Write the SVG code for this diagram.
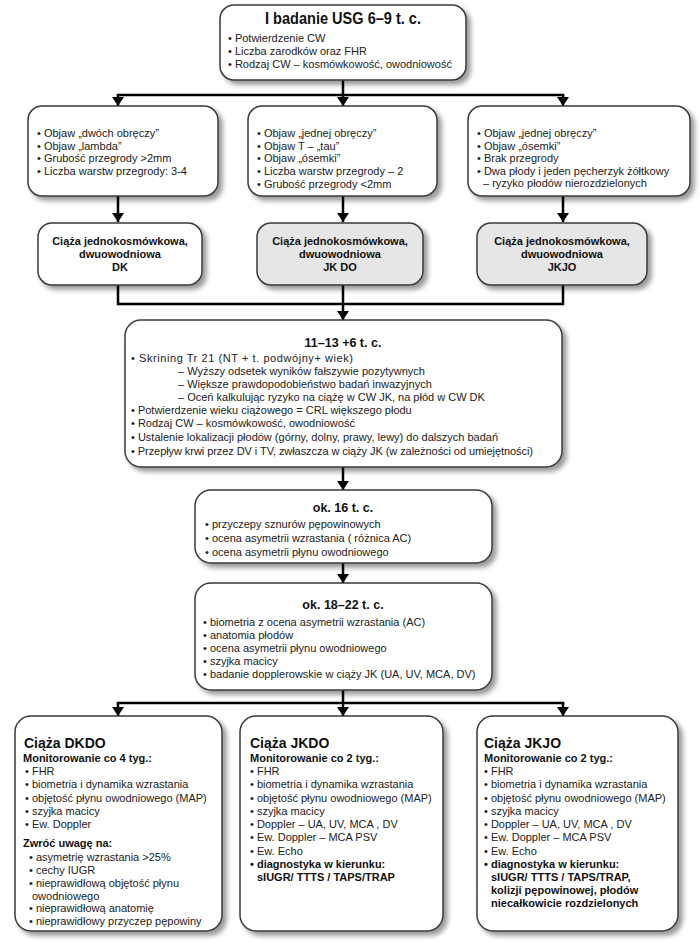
<svg xmlns="http://www.w3.org/2000/svg" width="700" height="942" viewBox="0 0 700 942">
<defs>
<filter id="sh" x="-10%" y="-10%" width="130%" height="130%">
<feDropShadow dx="4" dy="4" stdDeviation="2.8" flood-color="#000" flood-opacity="0.4"/>
</filter>
<marker id="ar" markerUnits="userSpaceOnUse" markerWidth="9" markerHeight="12" refX="9" refY="6" orient="auto">
<path d="M0,0 L9,6 L0,12 z" fill="#000"/>
</marker>
<style>
.box{fill:#fff;stroke:#3a3a3a;stroke-width:1.5;filter:url(#sh)}
.grey{fill:#e6e6e6}
.t{font-family:"Liberation Sans",Arial,sans-serif;font-size:11px;fill:#222}
.b{font-family:"Liberation Sans",Arial,sans-serif;font-weight:bold;fill:#111}
.m{font-size:11px}
.h{font-size:14px}
.c{text-anchor:middle}
.con{fill:none;stroke:#000;stroke-width:2.5}
</style>
</defs>
<rect width="700" height="942" fill="#fff"/>

<g id="connectors">
<path class="con" d="M343,80 V95 M116.75,95 H564.25 M116.75,304 H564.25 M118,285 V304 M563,285 V304 M343,285 V304 M343,690 V703 M116.75,703 H564.25"/>
<path class="con" d="M118,95 V106" marker-end="url(#ar)"/>
<path class="con" d="M343,95 V106" marker-end="url(#ar)"/>
<path class="con" d="M563,95 V106" marker-end="url(#ar)"/>
<path class="con" d="M118,196 V222" marker-end="url(#ar)"/>
<path class="con" d="M343,196 V222" marker-end="url(#ar)"/>
<path class="con" d="M563,196 V222" marker-end="url(#ar)"/>
<path class="con" d="M343,304 V320" marker-end="url(#ar)"/>
<path class="con" d="M343,467 V490" marker-end="url(#ar)"/>
<path class="con" d="M343,563 V583" marker-end="url(#ar)"/>
<path class="con" d="M118,703 V716" marker-end="url(#ar)"/>
<path class="con" d="M343,703 V716" marker-end="url(#ar)"/>
<path class="con" d="M563,703 V716" marker-end="url(#ar)"/>
</g>

<g id="n_usg1">
<rect class="box" x="220" y="5" width="246" height="75" rx="14"/>
<text class="b c" x="343" y="24" font-size="17" textLength="156" lengthAdjust="spacingAndGlyphs">I badanie USG  6–9 t. c.</text>
<text class="t" x="228" y="41.5">• Potwierdzenie CW</text>
<text class="t" x="228" y="54.5">• Liczba zarodków oraz FHR</text>
<text class="t" x="228" y="67.5">• Rodzaj CW – kosmówkowość, owodniowość</text>
</g>

<g id="n_dk_signs">
<rect class="box" x="28" y="106" width="190" height="90" rx="14"/>
<text class="t" x="37" y="136.5">• Objaw „dwóch obręczy”</text>
<text class="t" x="37" y="149.5">• Objaw „lambda”</text>
<text class="t" x="37" y="162">• Grubość przegrody &gt;2mm</text>
<text class="t" x="37" y="174.5">• Liczba warstw przegrody: 3-4</text>
</g>

<g id="n_jkdo_signs">
<rect class="box" x="248" y="106" width="189" height="90" rx="14"/>
<text class="t" x="257" y="136.5">• Objaw „jednej obręczy”</text>
<text class="t" x="257" y="149.5">• Objaw T – „tau”</text>
<text class="t" x="257" y="162">• Objaw „ósemki”</text>
<text class="t" x="257" y="174.5">• Liczba warstw przegrody – 2</text>
<text class="t" x="257" y="187.5">• Grubość przegrody &lt;2mm</text>
</g>

<g id="n_jkjo_signs">
<rect class="box" x="468" y="106" width="222" height="90" rx="14"/>
<text class="t" x="477" y="136.5">• Objaw „jednej obręczy”</text>
<text class="t" x="477" y="149.5">• Objaw „ósemki”</text>
<text class="t" x="477" y="162">• Brak przegrody</text>
<text class="t" x="477" y="174.5">• Dwa płody i jeden pęcherzyk żółtkowy</text>
<text class="t" x="483" y="187">– ryzyko płodów nierozdzielonych</text>
</g>

<g id="n_dk">
<rect class="box" x="38" y="223" width="164" height="62" rx="14"/>
<text class="b c" x="120" y="245" font-size="11">Ciąża jednokosmówkowa,</text>
<text class="b c" x="120" y="258" font-size="11">dwuowodniowa</text>
<text class="b c" x="120" y="271" font-size="11">DK</text>
</g>

<g id="n_jkdo">
<rect class="box grey" x="257" y="223" width="166" height="62" rx="14"/>
<text class="b c" x="340" y="245" font-size="11">Ciąża jednokosmówkowa,</text>
<text class="b c" x="340" y="258" font-size="11">dwuowodniowa</text>
<text class="b c" x="340" y="271" font-size="11">JK DO</text>
</g>

<g id="n_jkjo">
<rect class="box grey" x="477" y="223" width="170" height="62" rx="14"/>
<text class="b c" x="562" y="245" font-size="11">Ciąża jednokosmówkowa,</text>
<text class="b c" x="562" y="258" font-size="11">dwuowodniowa</text>
<text class="b c" x="562" y="271" font-size="11">JKJO</text>
</g>

<g id="n_11_13">
<rect class="box" x="125" y="320" width="437" height="147" rx="16"/>
<text class="b c" x="343" y="346.5" font-size="12.5">11–13 +6 t. c.</text>
<text class="t" x="131" y="361.5" textLength="222" lengthAdjust="spacing">• Skrining Tr 21 (NT + t. podwójny+ wiek)</text>
<text class="t" x="178" y="374.5">– Wyższy odsetek wyników fałszywie pozytywnych</text>
<text class="t" x="178" y="387.5">– Większe prawdopodobieństwo badań inwazyjnych</text>
<text class="t" x="178" y="400.5">– Oceń  kalkulując ryzyko na ciążę w CW JK, na płód w CW DK</text>
<text class="t" x="131" y="413.5">• Potwierdzenie wieku ciążowego = CRL większego płodu</text>
<text class="t" x="131" y="427">• Rodzaj CW – kosmówkowość, owodniowość</text>
<text class="t" x="131" y="440.5">• Ustalenie lokalizacji płodów (górny, dolny, prawy, lewy) do dalszych badań</text>
<text class="t" x="131" y="454.5" textLength="402" lengthAdjust="spacing">• Przepływ krwi przez DV i TV, zwłaszcza w ciąży JK (w zależności od umiejętności)</text>
</g>

<g id="n_16">
<rect class="box" x="195" y="490" width="297" height="73" rx="16"/>
<text class="b c" x="343" y="511.5" font-size="12.5">ok. 16 t. c.</text>
<text class="t" x="205" y="527.5">• przyczepy sznurów pępowinowych</text>
<text class="t" x="205" y="541.5">• ocena asymetrii wzrastania ( różnica AC)</text>
<text class="t" x="205" y="555.5">• ocena asymetrii płynu owodniowego</text>
</g>

<g id="n_18_22">
<rect class="box" x="195" y="583" width="297" height="107" rx="16"/>
<text class="b c" x="343" y="609" font-size="12.5">ok. 18–22 t. c.</text>
<text class="t" x="203" y="625.5">• biometria z ocena asymetrii wzrastania (AC)</text>
<text class="t" x="203" y="638.5">• anatomia płodów</text>
<text class="t" x="203" y="651.5">• ocena asymetrii płynu owodniowego</text>
<text class="t" x="203" y="665">• szyjka macicy</text>
<text class="t" x="203" y="678">• badanie dopplerowskie  w ciąży JK (UA, UV, MCA, DV)</text>
</g>

<g id="n_dkdo">
<rect class="box" x="15" y="716" width="207" height="215" rx="16"/>
<text class="b h" x="24" y="748">Ciąża DKDO</text>
<text class="b m" x="23" y="762">Monitorowanie co 4 tyg.:</text>
<text class="t" x="25" y="774.5">• FHR</text>
<text class="t" x="25" y="788">• biometria i dynamika wzrastania</text>
<text class="t" x="25" y="801.5">• objętość płynu owodniowego (MAP)</text>
<text class="t" x="25" y="814.5">• szyjka macicy</text>
<text class="t" x="25" y="828">• Ew. Doppler</text>
<text class="b m" x="23" y="847">Zwróć uwagę na:</text>
<text class="t" x="29" y="860.5">• asymetrię wzrastania &gt;25%</text>
<text class="t" x="29" y="873.5">• cechy IUGR</text>
<text class="t" x="29" y="886.5">• nieprawidłową objętość płynu</text>
<text class="t" x="32" y="899.5">owodniowego</text>
<text class="t" x="29" y="912">• nieprawidłową anatomię</text>
<text class="t" x="29" y="924.5">• nieprawidłowy przyczep pępowiny</text>
</g>

<g id="n_jkdo_mon">
<rect class="box" x="240" y="716" width="203" height="215" rx="16"/>
<text class="b h" x="250" y="748">Ciąża JKDO</text>
<text class="b m" x="250" y="762">Monitorowanie co 2 tyg.:</text>
<text class="t" x="250" y="774.5">• FHR</text>
<text class="t" x="250" y="788">• biometria i dynamika wzrastania</text>
<text class="t" x="250" y="801.5">• objętość płynu owodniowego (MAP)</text>
<text class="t" x="250" y="814.5">• szyjka macicy</text>
<text class="t" x="250" y="828">• Doppler – UA, UV, MCA , DV</text>
<text class="t" x="250" y="841">• Ew. Doppler – MCA PSV</text>
<text class="t" x="250" y="854.5">• Ew. Echo</text>
<text class="b m" x="250" y="868">• diagnostyka w kierunku:</text>
<text class="b m" x="257" y="881">sIUGR/ TTTS / TAPS/TRAP</text>
</g>

<g id="n_jkjo_mon">
<rect class="box" x="477" y="716" width="201" height="215" rx="16"/>
<text class="b h" x="484" y="748">Ciąża JKJO</text>
<text class="b m" x="484" y="762">Monitorowanie co 2 tyg.:</text>
<text class="t" x="484" y="774.5">• FHR</text>
<text class="t" x="484" y="788">•  biometria i dynamika wzrastania</text>
<text class="t" x="484" y="801.5">• objętość płynu owodniowego (MAP)</text>
<text class="t" x="484" y="814.5">• szyjka macicy</text>
<text class="t" x="484" y="828">• Doppler – UA, UV, MCA , DV</text>
<text class="t" x="484" y="841">• Ew. Doppler – MCA PSV</text>
<text class="t" x="484" y="854.5">• Ew. Echo</text>
<text class="b m" x="484" y="868">• diagnostyka w kierunku:</text>
<text class="b m" x="491" y="881">sIUGR/ TTTS / TAPS/TRAP,</text>
<text class="b m" x="491" y="894">kolizji pępowinowej, płodów</text>
<text class="b m" x="491" y="907">niecałkowicie rozdzielonych</text>
</g>
</svg>
